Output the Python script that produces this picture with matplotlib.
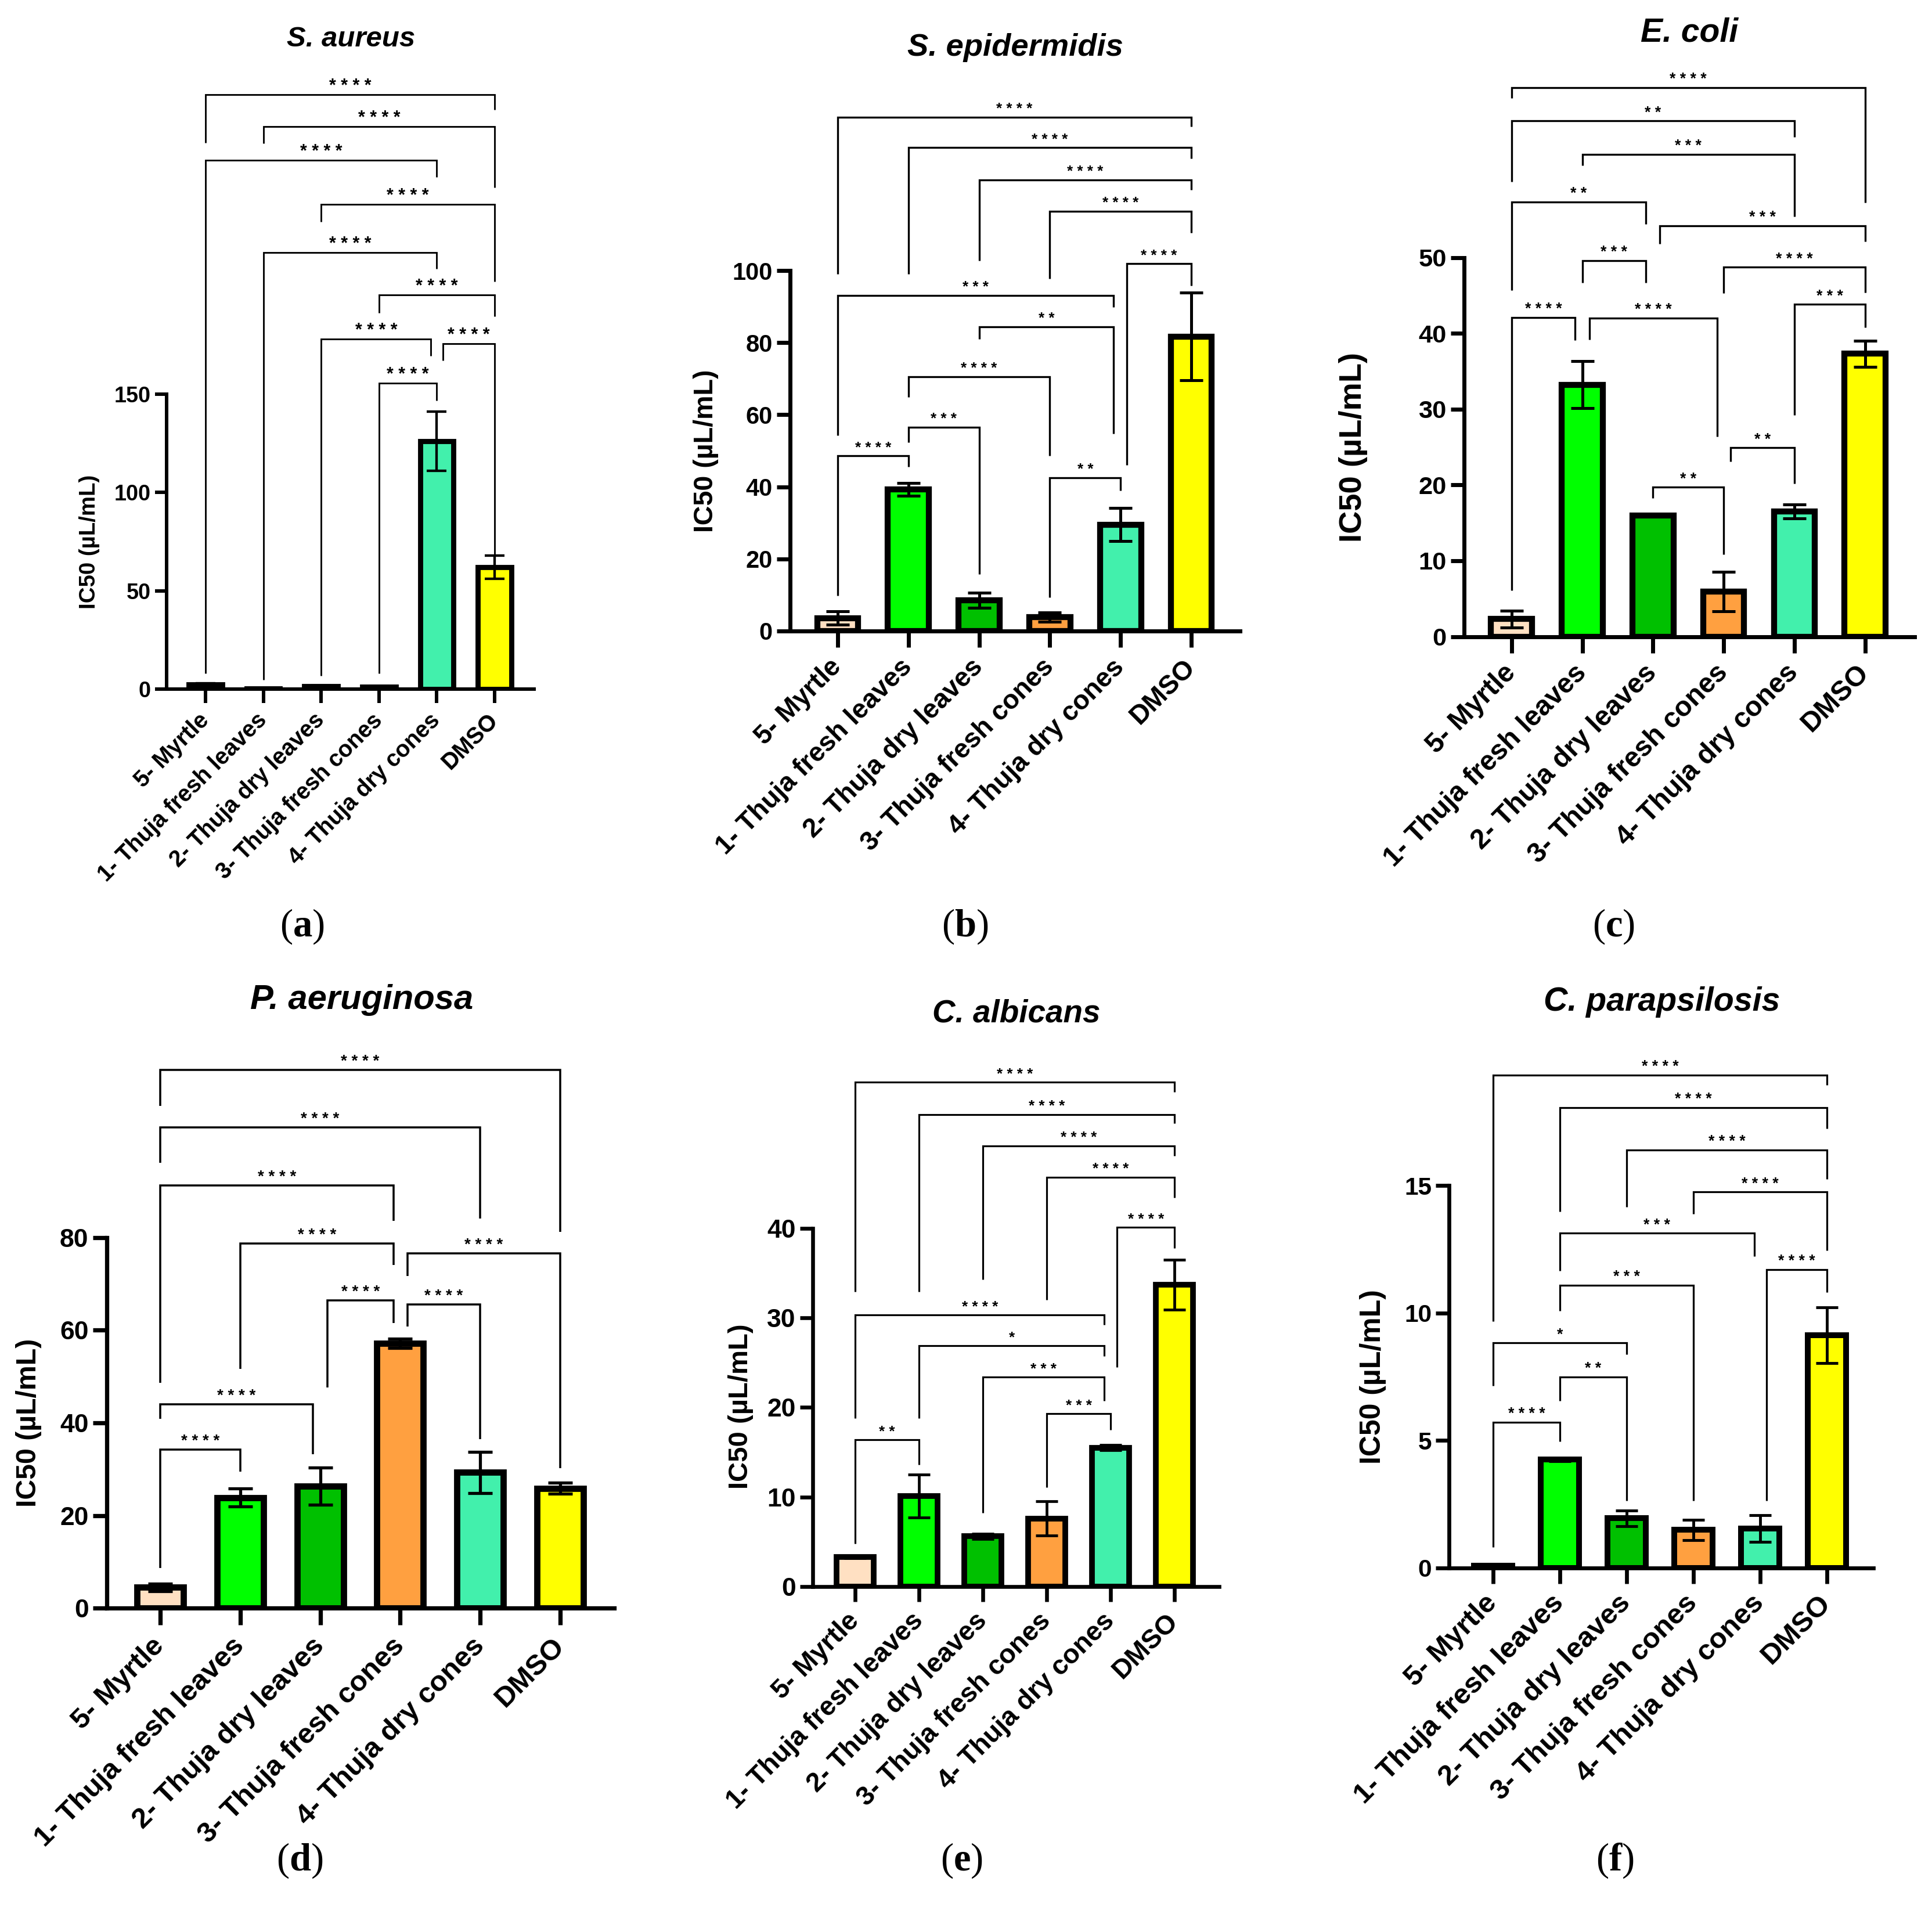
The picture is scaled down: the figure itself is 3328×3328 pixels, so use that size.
import matplotlib.pyplot as plt

plt.rcParams['font.family'] = ['Liberation Sans', 'DejaVu Sans']
plt.rcParams['mathtext.fontset'] = 'custom'
plt.rcParams['mathtext.rm'] = 'Liberation Serif'
plt.rcParams['mathtext.bf'] = 'Liberation Serif:bold'

# ---- data -------------------------------------------------------------
categories = ["5- Myrtle", "1- Thuja fresh leaves", "2- Thuja dry leaves",
              "3- Thuja fresh cones", "4- Thuja dry cones", "DMSO"]
bar_colors = ["#FFE0C2", "#00FF00", "#00C000", "#FFA040", "#42F0AC", "#FFFF00"]

sa_mean = [2.4, 0.3, 1.5, 1.2, 126.0, 62.0]
sa_sd = [0.6, 0.1, 0.4, 0.4, 15.0, 6.0]
se_mean = [3.6, 39.3, 8.6, 3.8, 29.5, 81.7]
se_sd = [1.9, 1.8, 2.1, 1.3, 4.6, 12.2]
ec_mean = [2.3, 33.2, 16.0, 5.9, 16.5, 37.3]
ec_sd = [1.1, 3.1, 0.2, 2.6, 0.9, 1.7]
pa_mean = [4.5, 23.9, 26.4, 57.2, 29.3, 25.9]
pa_sd = [0.8, 1.9, 4.0, 1.0, 4.4, 1.2]
ca_mean = [3.3, 10.1, 5.6, 7.6, 15.5, 33.7]
ca_sd = [0.1, 2.4, 0.3, 1.9, 0.3, 2.8]
cp_mean = [0.1, 4.25, 1.95, 1.5, 1.55, 9.13]
cp_sd = [0.02, 0.07, 0.3, 0.4, 0.52, 1.1]

# comparisons: (group i, group j, stars, line y, left leg end, right leg end, left dx, right dx)
sa_brackets = [(0, 5, '****', 302.3, 277.8, 294.6, 0, 0),
               (1, 5, '****', 286.1, 277.5, 255.1, 0, 0),
               (0, 4, '****', 269.0, 8.0, 260.4, 0, 0),
               (2, 5, '****', 246.5, 237.7, 207.3, 0, 0),
               (1, 4, '****', 222.0, 4.7, 213.8, 0, 0),
               (3, 5, '****', 200.5, 191.3, 189.5, 0, 0),
               (2, 4, '****', 178.0, 6.8, 169.5, 0, -0.1),
               (4, 5, '****', 175.7, 167.1, 64.4, 0.11, 0),
               (3, 4, '****', 155.6, 8.0, 146.7, 0, 0)]
se_brackets = [(0, 5, '****', 142.5, 99.0, 140.0, 0, 0),
               (1, 5, '****', 134.1, 99.0, 131.1, 0, 0),
               (2, 5, '****', 125.2, 102.7, 122.4, 0, 0),
               (3, 5, '****', 116.5, 97.7, 110.4, 0, 0),
               (4, 5, '****', 101.9, 46.0, 95.8, 0.09, 0),
               (0, 4, '***', 93.1, 54.3, 89.9, 0, -0.1),
               (2, 4, '**', 84.4, 81.0, 54.7, 0, -0.1),
               (1, 3, '****', 70.6, 64.9, 48.6, 0, 0),
               (1, 2, '***', 56.6, 52.4, 15.8, 0, 0),
               (0, 1, '****', 48.6, 9.8, 45.6, 0, 0),
               (3, 4, '**', 42.5, 9.4, 38.9, 0, 0)]
ec_brackets = [(0, 5, '****', 72.4, 71.0, 57.2, 0, 0),
               (0, 4, '**', 68.0, 60.0, 65.9, 0, 0),
               (1, 4, '***', 63.6, 62.1, 55.4, 0, 0),
               (0, 2, '**', 57.3, 45.7, 54.4, 0, -0.1),
               (2, 5, '***', 54.2, 51.8, 52.1, 0.1, 0),
               (1, 2, '***', 49.6, 46.7, 46.7, 0, -0.1),
               (3, 5, '****', 48.7, 45.3, 45.4, 0, 0),
               (4, 5, '***', 43.8, 29.2, 40.8, 0, 0),
               (0, 1, '****', 42.1, 6.1, 39.1, 0, -0.1),
               (1, 3, '****', 42.0, 39.2, 26.4, 0.1, -0.09),
               (3, 4, '**', 24.9, 23.1, 20.2, 0.1, 0),
               (2, 3, '**', 19.7, 18.3, 10.8, 0, 0)]
pa_brackets = [(0, 5, '****', 116.2, 108.4, 81.2, 0, 0),
               (0, 4, '****', 103.7, 96.1, 84.1, 0, 0),
               (0, 3, '****', 91.2, 48.7, 83.6, 0, -0.08),
               (1, 3, '****', 78.7, 51.6, 74.1, 0, -0.08),
               (3, 5, '****', 76.6, 71.7, 30.2, 0.09, 0),
               (2, 3, '****', 66.4, 47.6, 61.6, 0.09, -0.08),
               (3, 4, '****', 65.6, 60.8, 36.5, 0.09, 0),
               (0, 2, '****', 44.0, 40.9, 33.3, 0, -0.09),
               (0, 1, '****', 34.3, 8.7, 29.5, 0, 0)]
ca_brackets = [(0, 5, '****', 56.3, 32.9, 55.2, 0, 0),
               (1, 5, '****', 52.7, 32.9, 51.7, 0, 0),
               (2, 5, '****', 49.2, 34.3, 48.1, 0, 0),
               (3, 5, '****', 45.7, 32.0, 43.4, 0, 0),
               (4, 5, '****', 40.1, 24.5, 37.8, 0.1, 0),
               (0, 4, '****', 30.3, 18.8, 29.2, 0, -0.1),
               (1, 4, '*', 26.9, 18.8, 25.7, 0, -0.1),
               (2, 4, '***', 23.4, 8.2, 20.7, 0, -0.1),
               (3, 4, '***', 19.3, 11.1, 17.5, 0, 0),
               (0, 1, '**', 16.4, 4.8, 13.6, 0, 0)]
cp_brackets = [(0, 5, '****', 19.34, 9.68, 18.94, 0, 0),
               (1, 5, '****', 18.07, 13.98, 17.25, 0, 0),
               (2, 5, '****', 16.40, 14.17, 15.25, 0, 0),
               (3, 5, '****', 14.75, 13.89, 12.46, 0, 0),
               (1, 4, '***', 13.13, 11.66, 12.22, 0, -0.09),
               (4, 5, '****', 11.71, 2.65, 10.82, 0.1, 0),
               (1, 3, '***', 11.10, 10.10, 2.65, 0, 0),
               (0, 2, '*', 8.83, 7.14, 8.37, 0, 0),
               (1, 2, '**', 7.50, 6.55, 2.65, 0, 0),
               (0, 1, '****', 5.72, 0.83, 4.96, 0, 0)]

# ---- layout (pixel positions in the 3328 px figure) ---------------------
W = 3328
fig = plt.figure(figsize=(W / 200, W / 200), dpi=200)

panels = [
    # cal = (y-axis x, first column x, column spacing, x-axis end, y of zero, px per unit, axes top)
    # fs = (title, y ticks, x labels, y label, stars)
    dict(title="S. aureus", letter="a", mean=sa_mean, sd=sa_sd, br=sa_brackets,
         yticks=[0, 50, 100, 150], cal=(287, 354, 99.6, 920, 1187, 3.387, 125),
         tpos=(605, 67), ypos=(154, 933), lpos=(520, 1596),
         fs=(17.7, 13.6, 14.3, 13.8, 11.0), s=0.86),
    dict(title="S. epidermidis", letter="b", mean=se_mean, sd=se_sd, br=se_brackets,
         yticks=[0, 20, 40, 60, 80, 100], cal=(1361, 1443, 121.8, 2136, 1087, 6.21, 165),
         tpos=(1749, 82), ypos=(1216, 777), lpos=(1662, 1596),
         fs=(19.6, 15.0, 16.6, 16.8, 9.3), s=1.0),
    dict(title="E. coli", letter="c", mean=ec_mean, sd=ec_sd, br=ec_brackets,
         yticks=[0, 10, 20, 30, 40, 50], cal=(2522, 2603.7, 121.8, 3297.6, 1096.5, 13.06, 115),
         tpos=(2910, 56), ypos=(2331, 770), lpos=(2780, 1596),
         fs=(20.5, 15.6, 17.2, 19.6, 9.6), s=1.0),
    dict(title="P. aeruginosa", letter="d", mean=pa_mean, sd=pa_sd, br=pa_brackets,
         yticks=[0, 20, 40, 60, 80], cal=(184, 276, 137.8, 1058, 2770.4, 7.984, 1805),
         tpos=(623, 1723), ypos=(50, 2451), lpos=(516, 3205),
         fs=(21.5, 16.0, 17.8, 17.4, 10.0), s=1.05),
    dict(title="C. albicans", letter="e", mean=ca_mean, sd=ca_sd, br=ca_brackets,
         yticks=[0, 10, 20, 30, 40], cal=(1400, 1473.2, 110, 2099.7, 2732.9, 15.43, 1830),
         tpos=(1751, 1746), ypos=(1276, 2423), lpos=(1657, 3205),
         fs=(19.7, 16.0, 16.7, 17.0, 9.3), s=0.95),
    dict(title="C. parapsilosis", letter="f", mean=cp_mean, sd=cp_sd, br=cp_brackets,
         yticks=[0, 5, 10, 15], cal=(2495.6, 2571.9, 115, 3226.9, 2701, 43.91, 1815),
         tpos=(2863, 1726), ypos=(2365, 2372), lpos=(2782, 3205),
         fs=(20.6, 15.3, 17.8, 18.0, 9.6), s=0.97),
]

for p in panels:
    xa, c0, sp, xe, y0, ppu, ytop = p['cal']
    s = p['s']
    f_title, f_tick, f_xlab, f_ylab, f_star = p['fs']
    ax = fig.add_axes([xa / W, 1 - y0 / W, (xe - xa) / W, (y0 - ytop) / W])
    left = -(c0 - xa) / sp
    ax.set_xlim(left, left + (xe - xa) / sp)
    ax.set_ylim(0, (y0 - ytop) / ppu)

    x = list(range(len(categories)))
    ax.bar(x, p['mean'], width=0.58, color=bar_colors, edgecolor='black',
           linewidth=3.7 * s, zorder=2)
    ax.errorbar(x, p['mean'], yerr=p['sd'], fmt='none', ecolor='black',
                elinewidth=1.8 * s, capsize=7.2 * s, capthick=1.8 * s, zorder=3)

    for spn in ['top', 'right']:
        ax.spines[spn].set_visible(False)
    ax.spines['left'].set_bounds(0, p['yticks'][-1])
    ax.spines['left'].set_linewidth(2.5 * s)
    ax.spines['bottom'].set_linewidth(2.5 * s)
    ax.set_yticks(p['yticks'])
    ax.set_xticks(x)
    ax.set_xticklabels(categories, rotation=45, ha='right', va='center',
                       rotation_mode='anchor', fontsize=f_xlab, fontweight='bold')
    ax.tick_params(axis='y', length=8.4 * s, width=2.5 * s, pad=2.5,
                   labelsize=f_tick)
    ax.tick_params(axis='x', length=10 * s, width=2.5 * s, pad=10 * s)
    for lab in ax.get_yticklabels():
        lab.set_fontweight('bold')
    ax.patch.set_visible(False)

    for (i, j, stars, y, yl, yr, dl, dr) in p['br']:
        xl, xr = i + dl, j + dr
        ax.plot([xl, xl, xr, xr], [yl, y, y, yr], color='black', lw=1.2 * s,
                solid_joinstyle='miter', solid_capstyle='butt', clip_on=False, zorder=4)
        ax.annotate(' '.join(stars), xy=((xl + xr) / 2, y), xytext=(0, 2.4 * s),
                    textcoords='offset points', ha='center', va='baseline',
                    fontsize=f_star, fontweight='bold', annotation_clip=False)

    tx, ty = p['tpos']
    fig.text(tx / W, 1 - ty / W, p['title'], ha='center', va='center',
             fontsize=f_title, fontweight='bold', fontstyle='italic')
    lx, ly = p['ypos']
    fig.text(lx / W, 1 - ly / W, "IC50 (µL/mL)", ha='center', va='center',
             rotation=90, fontsize=f_ylab, fontweight='bold')
    px_, py_ = p['lpos']
    fig.text(px_ / W, 1 - py_ / W, r'($\mathbf{' + p['letter'] + '}$)',
             ha='center', va='center', fontsize=24, family='Liberation Serif')

fig.savefig('out.png', dpi=200, facecolor='white')
